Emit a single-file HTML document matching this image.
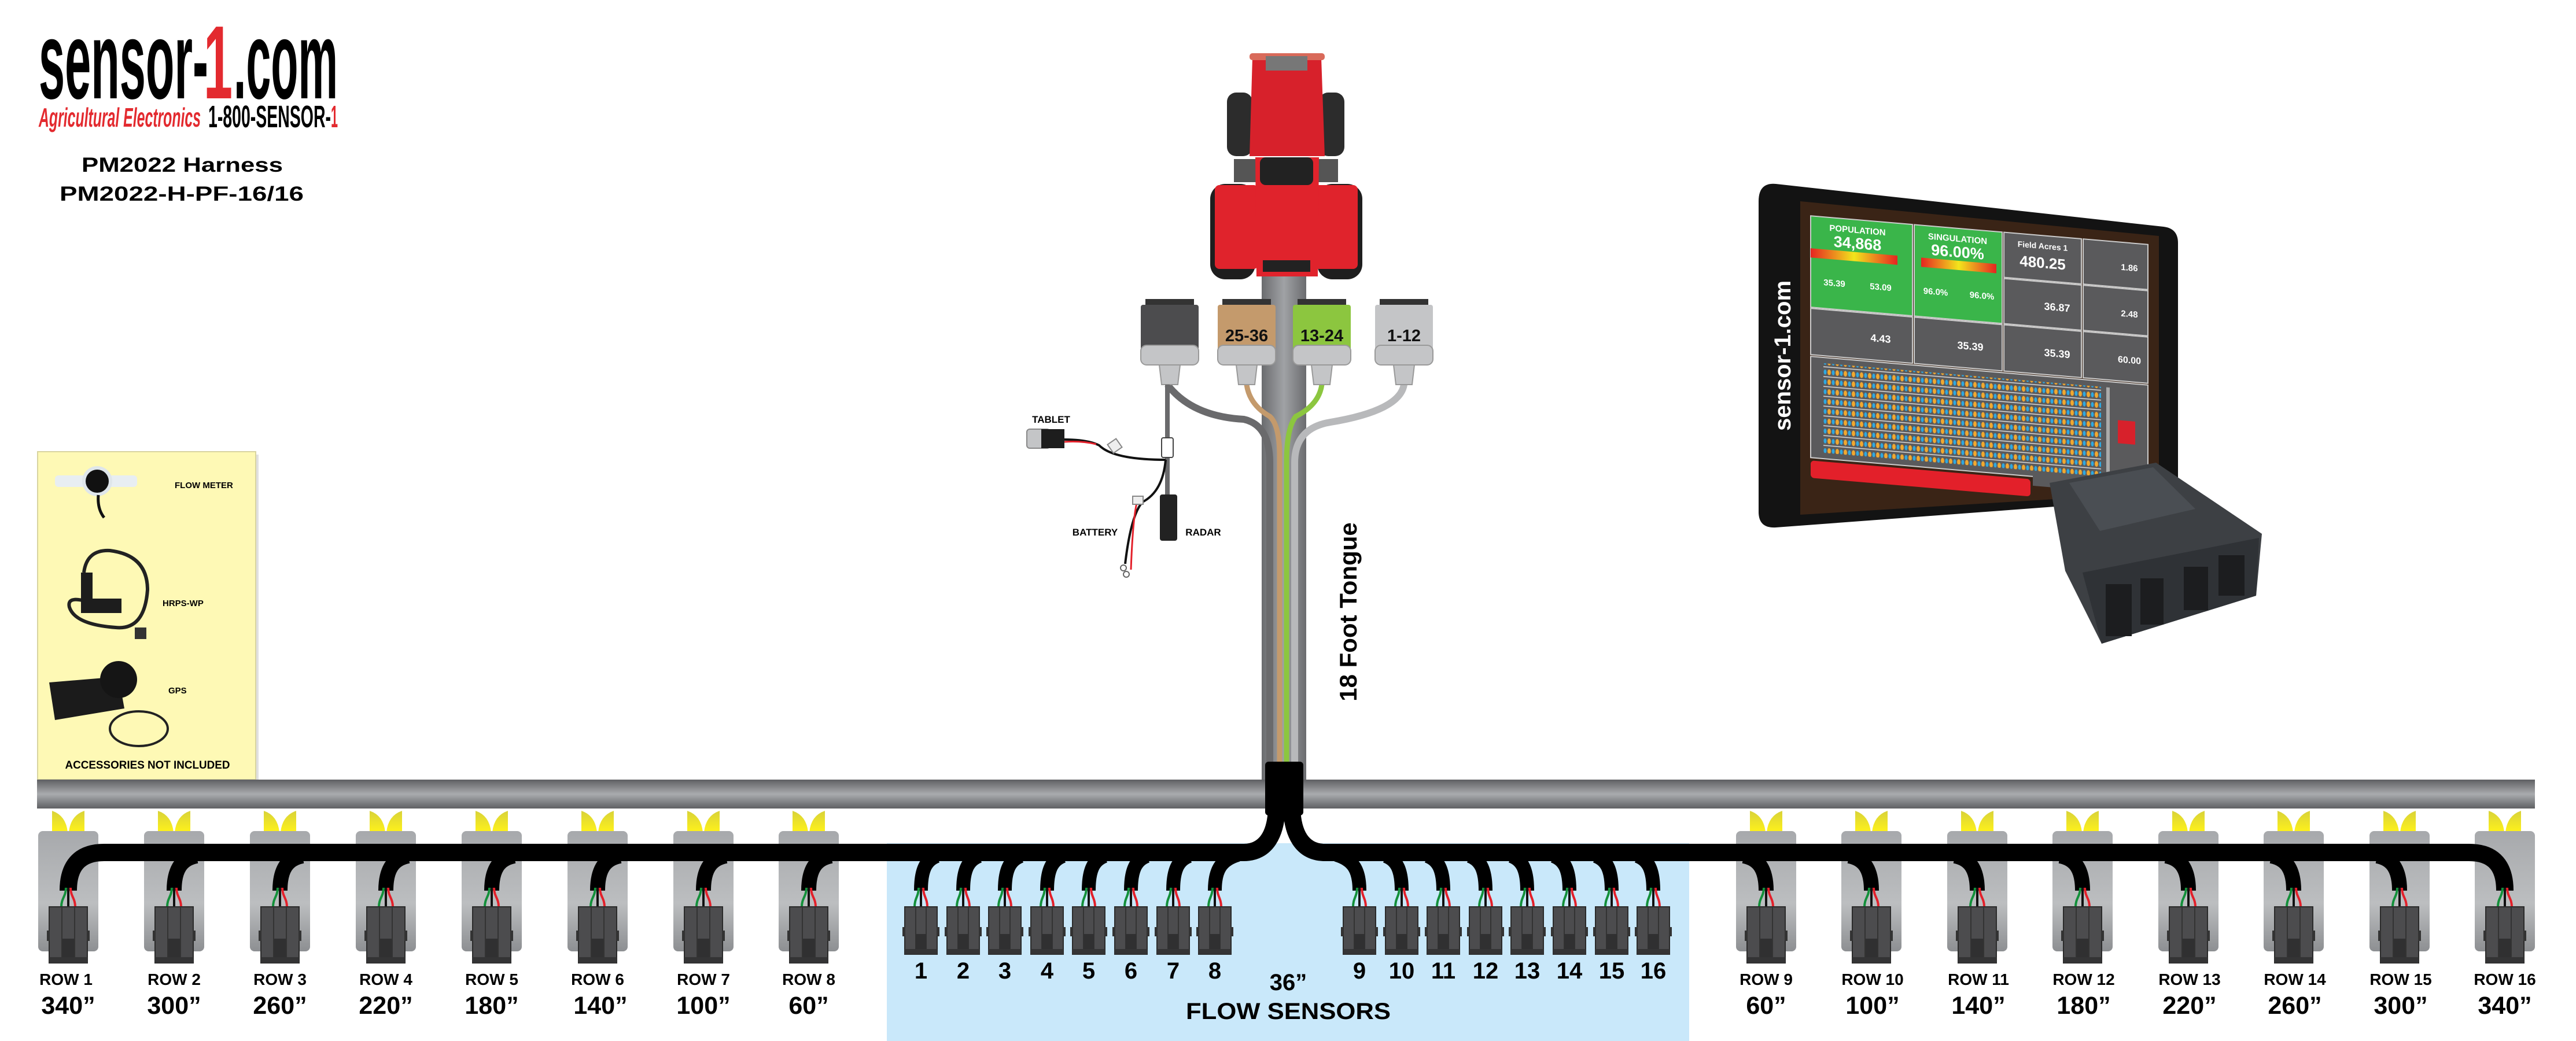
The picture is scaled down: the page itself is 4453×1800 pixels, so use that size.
<!DOCTYPE html>
<html><head><meta charset="utf-8"><style>
html,body{margin:0;padding:0;background:#fff;}
svg{display:block;}
text{font-family:"Liberation Sans",sans-serif;font-weight:bold;}
</style></head><body>
<svg width="4453" height="1800" viewBox="0 0 4453 1800" xmlns="http://www.w3.org/2000/svg">
<defs>
<linearGradient id="beam" x1="0" y1="0" x2="0" y2="1">
<stop offset="0" stop-color="#5f6063"/><stop offset="0.5" stop-color="#a9abae"/><stop offset="1" stop-color="#5f6063"/></linearGradient>
<linearGradient id="tong" x1="0" y1="0" x2="1" y2="0">
<stop offset="0" stop-color="#6b6c6f"/><stop offset="0.5" stop-color="#a0a2a5"/><stop offset="1" stop-color="#6b6c6f"/></linearGradient>
<linearGradient id="shg" x1="0" y1="0" x2="0" y2="1">
<stop offset="0" stop-color="#a7a9ac"/><stop offset="0.6" stop-color="#bcbec0"/><stop offset="1" stop-color="#8d8f92"/></linearGradient>
<linearGradient id="yel" x1="0" y1="0" x2="0" y2="1">
<stop offset="0" stop-color="#d8d23a"/><stop offset="1" stop-color="#fff21a"/></linearGradient>
<linearGradient id="popbar" x1="0" y1="0" x2="1" y2="0">
<stop offset="0" stop-color="#e52421"/><stop offset="0.5" stop-color="#f2e51c"/><stop offset="1" stop-color="#e52421"/></linearGradient>
<pattern id="dots" x="0" y="0" width="14" height="17" patternUnits="userSpaceOnUse">
<ellipse cx="4" cy="8" rx="3" ry="5" fill="#f0a830"/><ellipse cx="11" cy="8" rx="2.5" ry="4.5" fill="#2fa8e0"/><line x1="0" y1="16" x2="14" y2="16" stroke="#ddd" stroke-width="1.5"/></pattern>
<symbol id="shank" overflow="visible">
<path d="M-28,0 Q-4,8 -1,37 L-28,37Z" fill="url(#yel)"/>
<path d="M28,0 Q4,8 1,37 L28,37Z" fill="url(#yel)"/>
<rect x="-52" y="35" width="104" height="208" rx="8" fill="url(#shg)"/>
</symbol>
<symbol id="rc" overflow="visible">
<path d="M-4,0 C-4,15 -12,18 -12,33" stroke="#13903a" stroke-width="4" fill="none"/>
<path d="M0,0 L0,33" stroke="#111" stroke-width="4"/>
<path d="M4,0 C4,15 12,18 12,33" stroke="#e3202a" stroke-width="4" fill="none"/>
<rect x="-33" y="33" width="66" height="97" fill="#4c4c4e" stroke="#2b2b2b" stroke-width="2"/>
<line x1="-11" y1="33" x2="-11" y2="130" stroke="#333" stroke-width="2"/>
<line x1="11" y1="33" x2="11" y2="130" stroke="#333" stroke-width="2"/>
<rect x="-10" y="88" width="20" height="42" fill="#303031"/>
<rect x="-33" y="120" width="66" height="10" fill="#343435"/>
<rect x="-37" y="74" width="5" height="18" fill="#333"/><rect x="32" y="74" width="5" height="18" fill="#333"/>
</symbol>
<symbol id="fc" overflow="visible">
<path d="M-4,0 C-4,15 -11,18 -11,33" stroke="#13903a" stroke-width="4" fill="none"/>
<path d="M0,0 L0,33" stroke="#111" stroke-width="4"/>
<path d="M4,0 C4,15 11,18 11,33" stroke="#e3202a" stroke-width="4" fill="none"/>
<rect x="-28" y="33" width="56" height="82" fill="#4c4c4e" stroke="#2b2b2b" stroke-width="2"/>
<line x1="-9" y1="33" x2="-9" y2="115" stroke="#333" stroke-width="2"/>
<line x1="9" y1="33" x2="9" y2="115" stroke="#333" stroke-width="2"/>
<rect x="-9" y="80" width="18" height="35" fill="#303031"/>
<rect x="-28" y="106" width="56" height="9" fill="#343435"/>
<rect x="-32" y="68" width="5" height="16" fill="#333"/><rect x="27" y="68" width="5" height="16" fill="#333"/>
</symbol>
<symbol id="hc" overflow="visible">
<rect x="-42" y="0" width="84" height="10" fill="#333"/>
<rect x="-50" y="10" width="100" height="80" rx="4"/>
<rect x="-50" y="80" width="100" height="34" rx="10" fill="#c4c5c7" stroke="#999" stroke-width="2"/>
<path d="M-18,114 L18,114 L14,148 L-14,148Z" fill="#c4c5c7" stroke="#999" stroke-width="2"/>
</symbol>
</defs>

<!-- logo -->
<text x="67" y="170" font-size="190" textLength="293" lengthAdjust="spacingAndGlyphs" fill="#000">sensor-</text>
<text x="352" y="170" font-size="180" textLength="50" lengthAdjust="spacingAndGlyphs" fill="#e32a2f">1</text>
<text x="404" y="170" font-size="190" textLength="180" lengthAdjust="spacingAndGlyphs" fill="#000">.com</text>
<text x="67" y="219" font-size="46" font-style="italic" textLength="280" lengthAdjust="spacingAndGlyphs" fill="#e32a2f">Agricultural Electronics</text>
<text x="360" y="220" font-size="54" textLength="212" lengthAdjust="spacingAndGlyphs" fill="#000">1-800-SENSOR-</text>
<text x="572" y="220" font-size="54" textLength="12" lengthAdjust="spacingAndGlyphs" fill="#e32a2f">1</text>
<text x="315" y="297" font-size="35" text-anchor="middle" textLength="348" lengthAdjust="spacingAndGlyphs">PM2022 Harness</text>
<text x="314" y="347" font-size="35" text-anchor="middle" textLength="422" lengthAdjust="spacingAndGlyphs">PM2022-H-PF-16/16</text>

<!-- accessories box -->
<rect x="70" y="786" width="377" height="567" fill="#ccc" opacity="0.6"/>
<rect x="65" y="781" width="377" height="567" fill="#fef9b5" stroke="#d8d4a0" stroke-width="2"/>
<rect x="95" y="822" width="142" height="20" rx="6" fill="#e8eef2"/>
<circle cx="168" cy="832" r="26" fill="#dfe6ea"/><circle cx="168" cy="832" r="20" fill="#111"/>
<path d="M170,856 Q168,880 180,895" stroke="#111" stroke-width="5" fill="none"/>
<text x="302" y="844" font-size="15">FLOW METER</text>
<path d="M145,990 Q150,950 190,952 Q255,960 255,1020 Q250,1090 200,1085 Q130,1080 120,1050 Q115,1030 150,1040" stroke="#222" stroke-width="6" fill="none"/>
<rect x="140" y="990" width="20" height="70" fill="#1d1d1d"/><rect x="160" y="1035" width="50" height="25" fill="#1d1d1d"/>
<rect x="233" y="1085" width="20" height="20" fill="#333"/>
<text x="281" y="1048" font-size="15">HRPS-WP</text>
<path d="M85,1180 L205,1170 L215,1225 L95,1245Z" fill="#1b1b1b"/>
<circle cx="205" cy="1175" r="32" fill="#151515"/>
<ellipse cx="240" cy="1260" rx="50" ry="30" stroke="#222" stroke-width="4" fill="none"/>
<text x="291" y="1199" font-size="15">GPS</text>
<text x="255" y="1329" font-size="19" text-anchor="middle" textLength="285" lengthAdjust="spacingAndGlyphs">ACCESSORIES NOT INCLUDED</text>

<!-- tongue -->
<rect x="2181" y="440" width="77" height="920" fill="url(#tong)"/>

<!-- tractor -->
<rect x="2121" y="160" width="44" height="110" rx="16" fill="#2c2c2c"/>
<rect x="2280" y="160" width="44" height="110" rx="16" fill="#2c2c2c"/>
<rect x="2133" y="275" width="180" height="40" fill="#555"/>
<rect x="2092" y="318" width="78" height="165" rx="26" fill="#1e1e1e"/>
<rect x="2277" y="318" width="78" height="165" rx="26" fill="#1e1e1e"/>
<path d="M2165,100 L2284,100 L2290,270 L2160,270Z" fill="#d7212b"/>
<rect x="2160" y="92" width="130" height="12" rx="5" fill="#d96a5a"/>
<rect x="2188" y="97" width="72" height="25" fill="#777"/>
<rect x="2100" y="320" width="75" height="145" rx="8" fill="#e0232c"/>
<rect x="2272" y="320" width="75" height="145" rx="8" fill="#e0232c"/>
<path d="M2170,272 L2280,272 L2278,478 L2172,478Z" fill="#e0232c"/>
<rect x="2178" y="272" width="92" height="48" rx="10" fill="#222"/>
<rect x="2183" y="450" width="82" height="20" fill="#222"/>

<!-- tractor connectors cables -->
<path d="M2018,665 Q2060,720 2150,725 Q2195,735 2195,800 L2195,1320" stroke="#6a6a6c" stroke-width="12" fill="none"/>
<path d="M2155,665 Q2160,700 2195,720 Q2212,735 2212,790 L2212,1320" stroke="#c49a6c" stroke-width="9" fill="none"/>
<path d="M2285,665 Q2280,700 2240,720 Q2224,740 2224,800 L2224,1320" stroke="#8cc63f" stroke-width="9" fill="none"/>
<path d="M2427,665 Q2420,710 2300,730 Q2238,740 2238,800 L2238,1320" stroke="#b8b9bb" stroke-width="12" fill="none"/>
<use href="#hc" x="2022" y="517" fill="#4c4c4e"/>
<use href="#hc" x="2155" y="517" fill="#c49a6c"/>
<use href="#hc" x="2285" y="517" fill="#8cc63f"/>
<use href="#hc" x="2427" y="517" fill="#c4c5c7"/>
<text x="2155" y="590" font-size="29" text-anchor="middle" font-family="DejaVu Sans" fill="#111">25-36</text>
<text x="2285" y="590" font-size="29" text-anchor="middle" font-family="DejaVu Sans" fill="#111">13-24</text>
<text x="2427" y="590" font-size="29" text-anchor="middle" font-family="DejaVu Sans" fill="#111">1-12</text>

<!-- left harness -->
<path d="M2018,665 L2018,860" stroke="#6a6a6c" stroke-width="8" fill="none"/>
<rect x="2005" y="855" width="30" height="80" rx="4" fill="#222"/>
<path d="M1840,760 Q1880,760 1900,770 Q1925,795 2015,795" stroke="#111" stroke-width="4" fill="none"/>
<path d="M1840,764 Q1870,762 1895,768" stroke="#e3202a" stroke-width="3" fill="none"/>
<rect x="1775" y="742" width="40" height="33" rx="5" fill="#c4c5c7" stroke="#888" stroke-width="2"/>
<rect x="1800" y="742" width="40" height="33" fill="#1d1d1d"/>
<rect x="1918" y="762" width="18" height="18" fill="#eee" stroke="#888" stroke-width="2" transform="rotate(-35 1927 771)"/>
<rect x="2008" y="757" width="20" height="34" rx="3" fill="#fff" stroke="#444" stroke-width="2"/>
<path d="M2015,795 Q2010,850 1975,868 Q1955,890 1945,975" stroke="#111" stroke-width="4" fill="none"/>
<path d="M1965,870 Q1958,900 1955,985" stroke="#e3202a" stroke-width="3" fill="none"/>
<circle cx="1942" cy="982" r="5" fill="none" stroke="#666" stroke-width="2"/><circle cx="1947" cy="993" r="5" fill="none" stroke="#666" stroke-width="2"/>
<rect x="1958" y="858" width="18" height="14" fill="#eee" stroke="#888" stroke-width="2"/>
<text x="1817" y="731" font-size="17" font-weight="normal" text-anchor="middle">TABLET</text>
<text x="1893" y="926" font-size="17" font-weight="normal" text-anchor="middle">BATTERY</text>
<text x="2080" y="926" font-size="17" font-weight="normal" text-anchor="middle">RADAR</text>

<text transform="translate(2345,1058) rotate(-90)" font-size="42" text-anchor="middle" font-family="DejaVu Sans">18 Foot Tongue</text>

<!-- tablet -->
<path d="M3070,318 L3740,392 Q3765,395 3765,420 L3765,835 Q3765,860 3740,862 L3070,912 Q3040,914 3040,885 L3040,348 Q3040,315 3070,318Z" fill="#131313"/>
<path d="M3112,348 L3732,408 L3732,852 L3112,890Z" fill="#3a2416"/>
<g transform="matrix(1 0.085 0 1 3116 360)">
<rect x="14" y="12" width="176" height="158" fill="#3ab54a" stroke="#ccc" stroke-width="2"/>
<rect x="193" y="12" width="152" height="158" fill="#3ab54a" stroke="#ccc" stroke-width="2"/>
<rect x="348" y="12" width="134" height="78" fill="#5a5a5c" stroke="#ccc" stroke-width="2"/>
<rect x="485" y="12" width="112" height="78" fill="#5a5a5c" stroke="#ccc" stroke-width="2"/>
<rect x="348" y="92" width="134" height="78" fill="#5a5a5c" stroke="#ccc" stroke-width="2"/>
<rect x="485" y="92" width="112" height="78" fill="#5a5a5c" stroke="#ccc" stroke-width="2"/>
<rect x="14" y="172" width="176" height="80" fill="#5a5a5c" stroke="#ccc" stroke-width="2"/>
<rect x="193" y="172" width="152" height="80" fill="#5a5a5c" stroke="#ccc" stroke-width="2"/>
<rect x="348" y="172" width="134" height="80" fill="#5a5a5c" stroke="#ccc" stroke-width="2"/>
<rect x="485" y="172" width="112" height="80" fill="#5a5a5c" stroke="#ccc" stroke-width="2"/>
<rect x="14" y="68" width="150" height="16" fill="url(#popbar)"/>
<rect x="205" y="68" width="130" height="16" fill="url(#popbar)"/>
<text x="95" y="35" font-size="15" fill="#fff" text-anchor="middle">POPULATION</text>
<text x="95" y="62" font-size="27" fill="#fff" text-anchor="middle">34,868</text>
<text x="268" y="35" font-size="15" fill="#fff" text-anchor="middle">SINGULATION</text>
<text x="268" y="62" font-size="27" fill="#fff" text-anchor="middle">96.00%</text>
<text x="415" y="35" font-size="14" fill="#fff" text-anchor="middle">Field Acres 1</text>
<text x="415" y="68" font-size="26" fill="#fff" text-anchor="middle">480.25</text>
<text x="55" y="130" font-size="15" fill="#fff" text-anchor="middle">35.39</text>
<text x="135" y="130" font-size="15" fill="#fff" text-anchor="middle">53.09</text>
<text x="230" y="130" font-size="15" fill="#fff" text-anchor="middle">96.0%</text>
<text x="310" y="130" font-size="15" fill="#fff" text-anchor="middle">96.0%</text>
<text x="135" y="220" font-size="18" fill="#fff" text-anchor="middle">4.43</text>
<text x="290" y="220" font-size="18" fill="#fff" text-anchor="middle">35.39</text>
<text x="440" y="220" font-size="18" fill="#fff" text-anchor="middle">35.39</text>
<text x="565" y="220" font-size="16" fill="#fff" text-anchor="middle">60.00</text>
<text x="440" y="140" font-size="18" fill="#fff" text-anchor="middle">36.87</text>
<text x="565" y="60" font-size="15" fill="#fff" text-anchor="middle">1.86</text>
<text x="565" y="140" font-size="15" fill="#fff" text-anchor="middle">2.48</text>
<rect x="14" y="255" width="583" height="175" fill="#5a5a5c" stroke="#ccc" stroke-width="2"/>
<rect x="36" y="265" width="480" height="155" fill="url(#dots)"/>
<rect x="525" y="265" width="6" height="160" fill="#aaa"/>
<rect x="545" y="320" width="30" height="40" fill="#d7212b"/>
<rect x="14" y="435" width="380" height="30" rx="6" fill="#e3202a"/>
<rect x="398" y="420" width="200" height="26" fill="#5a5a5c"/>
<text x="480" y="440" font-size="12" fill="#fff">TABLET &amp; BLACKBOX</text>
</g>
<text transform="translate(3095,615) rotate(-90)" font-size="40" fill="#fff" text-anchor="middle">sensor-1.com</text>

<!-- blackbox -->
<path d="M3543,835 L3727,800 L3910,923 L3900,1030 L3633,1113 L3570,987Z" fill="#3d4044"/>
<path d="M3577,835 L3722,808 L3795,880 L3630,918Z" fill="#4a4e53"/>
<path d="M3600,990 L3905,930 L3900,1030 L3633,1113Z" fill="#2f3236"/>
<rect x="3640" y="1010" width="45" height="90" fill="#1c1d1f"/>
<rect x="3700" y="1000" width="40" height="80" fill="#1c1d1f"/>
<rect x="3775" y="980" width="42" height="75" fill="#1c1d1f"/>
<rect x="3835" y="960" width="45" height="70" fill="#1c1d1f"/>

<!-- beam -->
<rect x="64" y="1348" width="4318" height="50" fill="url(#beam)"/>
<!-- blue area -->
<rect x="1533" y="1458" width="1387" height="342" fill="#c9e8fa"/>

<!-- shanks -->
<g>
<use href="#shank" x="118" y="1402"/><use href="#shank" x="301" y="1402"/><use href="#shank" x="484" y="1402"/><use href="#shank" x="667" y="1402"/>
<use href="#shank" x="850" y="1402"/><use href="#shank" x="1033" y="1402"/><use href="#shank" x="1216" y="1402"/><use href="#shank" x="1398" y="1402"/>
<use href="#shank" x="3053" y="1402"/><use href="#shank" x="3235" y="1402"/><use href="#shank" x="3418" y="1402"/><use href="#shank" x="3600" y="1402"/>
<use href="#shank" x="3783" y="1402"/><use href="#shank" x="3965" y="1402"/><use href="#shank" x="4148" y="1402"/><use href="#shank" x="4330" y="1402"/>
</g>

<!-- black harness -->
<g stroke="#000" fill="none" stroke-width="30">
<path d="M118,1540 C118,1500 135,1474 180,1474 L2150,1474 C2190,1474 2205,1440 2207,1400"/>
<path d="M2233,1400 C2235,1440 2250,1474 2290,1474 L4268,1474 C4313,1474 4330,1500 4330,1540"/>
</g>
<g stroke="#000" fill="none" stroke-width="26">
<path d="M301,1540 C301,1505 312,1485 340,1480"/><path d="M484,1540 C484,1505 495,1485 523,1480"/>
<path d="M667,1540 C667,1505 678,1485 706,1480"/><path d="M850,1540 C850,1505 861,1485 889,1480"/>
<path d="M1033,1540 C1033,1505 1044,1485 1072,1480"/><path d="M1216,1540 C1216,1505 1227,1485 1255,1480"/>
<path d="M1398,1540 C1398,1505 1409,1485 1437,1480"/>
<path d="M3053,1540 C3053,1505 3042,1485 3014,1480"/><path d="M3235,1540 C3235,1505 3224,1485 3196,1480"/>
<path d="M3418,1540 C3418,1505 3407,1485 3379,1480"/><path d="M3600,1540 C3600,1505 3589,1485 3561,1480"/>
<path d="M3783,1540 C3783,1505 3772,1485 3744,1480"/><path d="M3965,1540 C3965,1505 3954,1485 3926,1480"/>
<path d="M4148,1540 C4148,1505 4137,1485 4109,1480"/>
</g>
<g stroke="#000" fill="none" stroke-width="24">
<path d="M1592,1540 C1592,1505 1600,1487 1620,1480"/><path d="M1665,1540 C1665,1505 1673,1487 1693,1480"/>
<path d="M1737,1540 C1737,1505 1745,1487 1765,1480"/><path d="M1810,1540 C1810,1505 1818,1487 1838,1480"/>
<path d="M1882,1540 C1882,1505 1890,1487 1910,1480"/><path d="M1955,1540 C1955,1505 1963,1487 1983,1480"/>
<path d="M2028,1540 C2028,1505 2036,1487 2056,1480"/><path d="M2100,1540 C2100,1505 2110,1487 2140,1478"/>
<path d="M2350,1540 C2350,1505 2340,1487 2310,1478"/><path d="M2423,1540 C2423,1505 2415,1487 2395,1480"/>
<path d="M2495,1540 C2495,1505 2487,1487 2467,1480"/><path d="M2568,1540 C2568,1505 2560,1487 2540,1480"/>
<path d="M2640,1540 C2640,1505 2632,1487 2612,1480"/><path d="M2713,1540 C2713,1505 2705,1487 2685,1480"/>
<path d="M2786,1540 C2786,1505 2778,1487 2758,1480"/><path d="M2858,1540 C2858,1505 2850,1487 2830,1480"/>
</g>
<rect x="2187" y="1317" width="66" height="93" rx="6" fill="#000"/>

<!-- connectors -->
<g>
<use href="#rc" x="118" y="1535"/><use href="#rc" x="301" y="1535"/><use href="#rc" x="484" y="1535"/><use href="#rc" x="667" y="1535"/>
<use href="#rc" x="850" y="1535"/><use href="#rc" x="1033" y="1535"/><use href="#rc" x="1216" y="1535"/><use href="#rc" x="1398" y="1535"/>
<use href="#rc" x="3053" y="1535"/><use href="#rc" x="3235" y="1535"/><use href="#rc" x="3418" y="1535"/><use href="#rc" x="3600" y="1535"/>
<use href="#rc" x="3783" y="1535"/><use href="#rc" x="3965" y="1535"/><use href="#rc" x="4148" y="1535"/><use href="#rc" x="4330" y="1535"/>
<use href="#fc" x="1592" y="1535"/><use href="#fc" x="1665" y="1535"/><use href="#fc" x="1737" y="1535"/><use href="#fc" x="1810" y="1535"/>
<use href="#fc" x="1882" y="1535"/><use href="#fc" x="1955" y="1535"/><use href="#fc" x="2028" y="1535"/><use href="#fc" x="2100" y="1535"/>
<use href="#fc" x="2350" y="1535"/><use href="#fc" x="2423" y="1535"/><use href="#fc" x="2495" y="1535"/><use href="#fc" x="2568" y="1535"/>
<use href="#fc" x="2640" y="1535"/><use href="#fc" x="2713" y="1535"/><use href="#fc" x="2786" y="1535"/><use href="#fc" x="2858" y="1535"/>
</g>

<!-- row labels -->
<g font-size="28" text-anchor="middle">
<text x="114" y="1703">ROW 1</text><text x="301" y="1703">ROW 2</text><text x="484" y="1703">ROW 3</text><text x="667" y="1703">ROW 4</text>
<text x="850" y="1703">ROW 5</text><text x="1033" y="1703">ROW 6</text><text x="1216" y="1703">ROW 7</text><text x="1398" y="1703">ROW 8</text>
<text x="3053" y="1703">ROW 9</text><text x="3237" y="1703">ROW 10</text><text x="3420" y="1703">ROW 11</text><text x="3602" y="1703">ROW 12</text>
<text x="3785" y="1703">ROW 13</text><text x="3967" y="1703">ROW 14</text><text x="4150" y="1703">ROW 15</text><text x="4330" y="1703">ROW 16</text>
</g>
<g font-size="43" text-anchor="middle">
<text x="118" y="1753">340”</text><text x="301" y="1753">300”</text><text x="484" y="1753">260”</text><text x="667" y="1753">220”</text>
<text x="850" y="1753">180”</text><text x="1038" y="1753">140”</text><text x="1216" y="1753">100”</text><text x="1398" y="1753">60”</text>
<text x="3053" y="1753">60”</text><text x="3237" y="1753">100”</text><text x="3420" y="1753">140”</text><text x="3602" y="1753">180”</text>
<text x="3785" y="1753">220”</text><text x="3967" y="1753">260”</text><text x="4150" y="1753">300”</text><text x="4330" y="1753">340”</text>
</g>
<g font-size="40" text-anchor="middle">
<text x="1592" y="1692">1</text><text x="1665" y="1692">2</text><text x="1737" y="1692">3</text><text x="1810" y="1692">4</text>
<text x="1882" y="1692">5</text><text x="1955" y="1692">6</text><text x="2028" y="1692">7</text><text x="2100" y="1692">8</text>
<text x="2350" y="1692">9</text><text x="2423" y="1692">10</text><text x="2495" y="1692">11</text><text x="2568" y="1692">12</text>
<text x="2640" y="1692">13</text><text x="2713" y="1692">14</text><text x="2786" y="1692">15</text><text x="2858" y="1692">16</text>
<text x="2227" y="1712">36”</text>
<text x="2227" y="1762" textLength="354" lengthAdjust="spacingAndGlyphs">FLOW SENSORS</text>
</g>
</svg>
</body></html>
